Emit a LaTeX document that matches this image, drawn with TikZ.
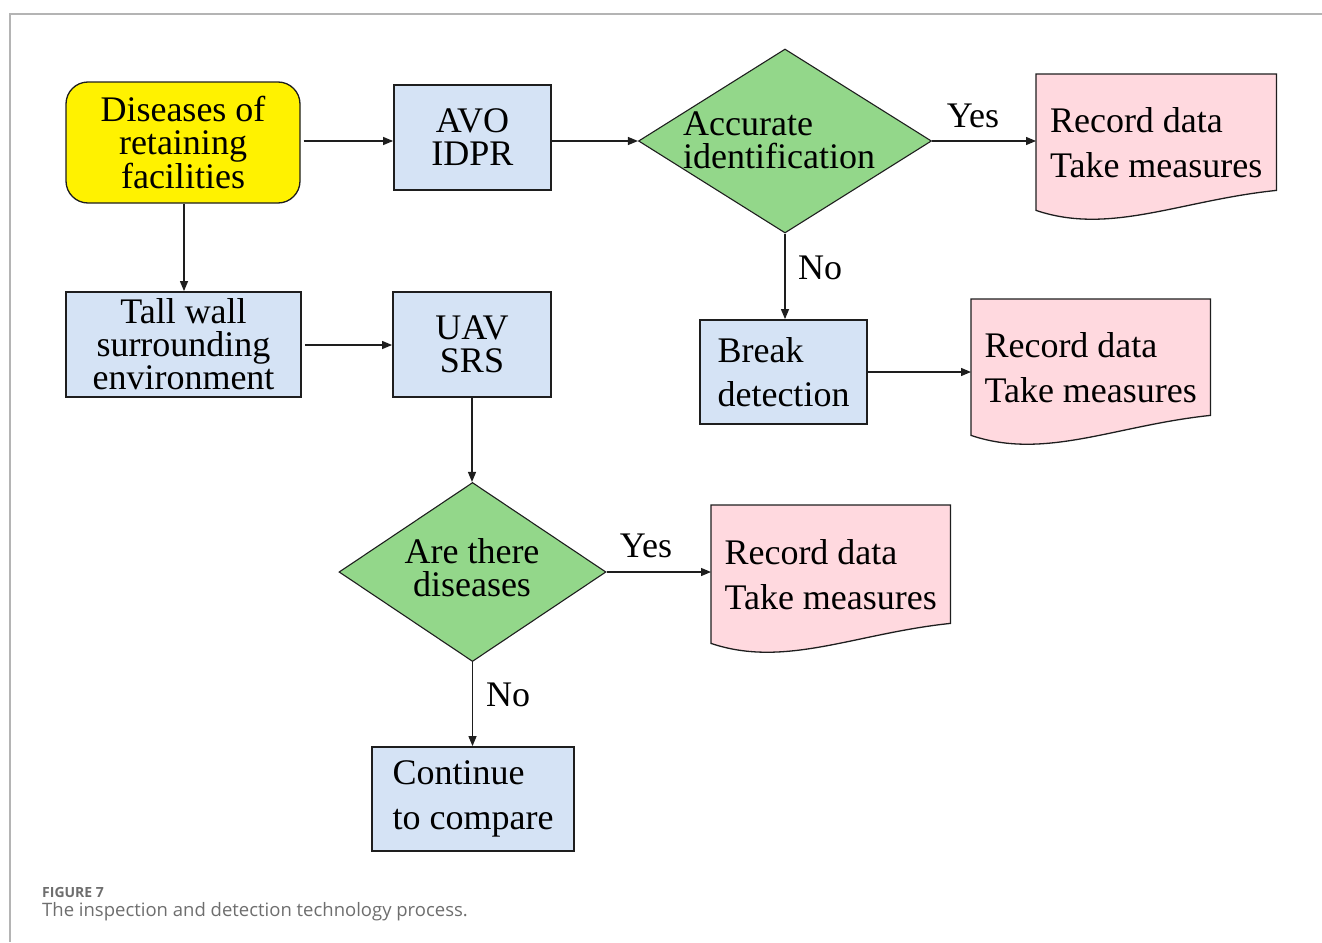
\documentclass[tikz,border=0pt]{standalone}
\usepackage{fontspec}
\setmainfont{Liberation Serif}
\newfontfamily\capfont{Open Sans}
\usetikzlibrary{shapes.geometric,arrows.meta,backgrounds}
\definecolor{boxblue}{HTML}{D5E3F5}
\definecolor{diagreen}{HTML}{93D78A}
\definecolor{docpink}{HTML}{FFD9DF}
\definecolor{framegray}{HTML}{B4B4B4}
\definecolor{capgray}{HTML}{6E6E6E}
\definecolor{edgecol}{HTML}{1E1E1E}
\tikzset{
  txt/.style={font=\fontsize{36}{33}\selectfont, inner sep=0pt},
  startbox/.style={draw=edgecol, line width=1.3pt, fill=yellow, rounded corners=22pt,
    txt, align=center},
  procbox/.style={draw=edgecol, line width=1.8pt, fill=boxblue, txt, align=center},
  decision/.style={diamond, draw=edgecol, line width=1.1pt, fill=diagreen, inner sep=0pt, aspect=1.6},
  docbox/.style={txt, align=left, font=\fontsize{36}{45}\selectfont, anchor=north west},
  docshape/.style={draw=edgecol, line width=1.3pt, fill=docpink},
  arr/.style={draw=edgecol, line width=1.2pt, -{Triangle[length=10pt,width=8pt]}},
  lbl/.style={txt},
}
\begin{document}
\begin{tikzpicture}[x=1pt,y=-1pt]
\useasboundingbox (0,0) rectangle (1322,942);
\draw[framegray, line width=1.5pt] (1322,14) -- (10,14) -- (10,942);

% top row
\node[startbox, minimum width=234pt, minimum height=121pt] (n1) at (183,142.5)
  {Diseases of\\retaining\\facilities};
\node[procbox, minimum width=157pt, minimum height=105pt] (avo) at (472.5,137.5) {AVO\\IDPR};
\node[decision, minimum width=293pt, minimum height=184pt] (d1) at (785,141) {};
\node[txt, align=left, anchor=west] (d1t) at (683,140) {Accurate\\identification};
\node[docbox, minimum width=240pt, minimum height=136pt] (r1) at (1036,74) {Record data\\Take measures};

% break detection
\node[procbox, align=left, font=\fontsize{36}{44}\selectfont, minimum width=167pt, minimum height=104pt] (br) at (783.5,372) {Break\\detection};
\node[docbox, minimum width=239pt, minimum height=136pt] (r2) at (971,299) {Record data\\Take measures};

% second row
\node[procbox, minimum width=235pt, minimum height=105pt] (tw) at (183.5,344.5)
  {Tall wall\\surrounding\\environment};
\node[procbox, minimum width=158pt, minimum height=105pt] (uav) at (472,344.5) {UAV\\SRS};

% second decision
\node[decision, minimum width=267pt, minimum height=179pt] (d2) at (472.5,572) {};
\node[txt, align=center] (d2t) at (472,568) {Are there\\diseases};
\node[docbox, minimum width=239pt, minimum height=138pt] (r3) at (711,505) {Record data\\Take measures};

\node[procbox, align=left, font=\fontsize{36}{45}\selectfont, minimum width=202pt, minimum height=104pt] (cc) at (473,799) {Continue\\to compare};

% document shapes (behind the texts)
\begin{scope}[on background layer]
\foreach \r in {r1,r2,r3}{
  \draw[docshape] (\r.north west) -- (\r.north east) -- ([yshift=20pt]\r.south east)
    .. controls ([xshift=144pt,yshift=10pt]\r.south west) and ([xshift=74pt,yshift=-25pt]\r.south west)
    .. (\r.south west) -- cycle;
}
\end{scope}

% connectors
\draw[arr, shorten <=3pt] (n1.east |- 0,141) -- (avo.west |- 0,141);
\draw[arr] (avo.east |- d1.west) -- (d1.west);
\draw[arr] (d1.east) -- (d1.east -| r1.west);
\draw[arr] (d1.south) -- (br.north -| d1.south);
\draw[arr] (br.east) -- (br.east -| r2.west);
\draw[arr] (n1.south -| 184,0) -- (tw.north -| 184,0);
\draw[arr, shorten <=3pt] (tw.east |- 0,345) -- (uav.west |- 0,345);
\draw[arr] (uav.south) -- (d2.north -| uav.south);
\draw[arr] (d2.east) -- (d2.east -| r3.west);
\draw[arr] (d2.south) -- (d2.south |- cc.north);

% labels
\node[lbl] (y1) at (973,116) {Yes};
\node[lbl] (no1) at (820,268) {No};
\node[lbl] (y2) at (646,546) {Yes};
\node[lbl] (no2) at (508,695) {No};

% caption
\node[anchor=west, inner sep=0pt, text=capgray, font=\capfont\bfseries\fontsize{14}{16}\selectfont] (fig) at (42,892) {FIGURE 7};
\node[anchor=west, inner sep=0pt, text=capgray, font=\capfont\fontsize{18.5}{21}\selectfont] (cap) at (42,912) {The inspection and detection technology process.};
\end{tikzpicture}
\end{document}
